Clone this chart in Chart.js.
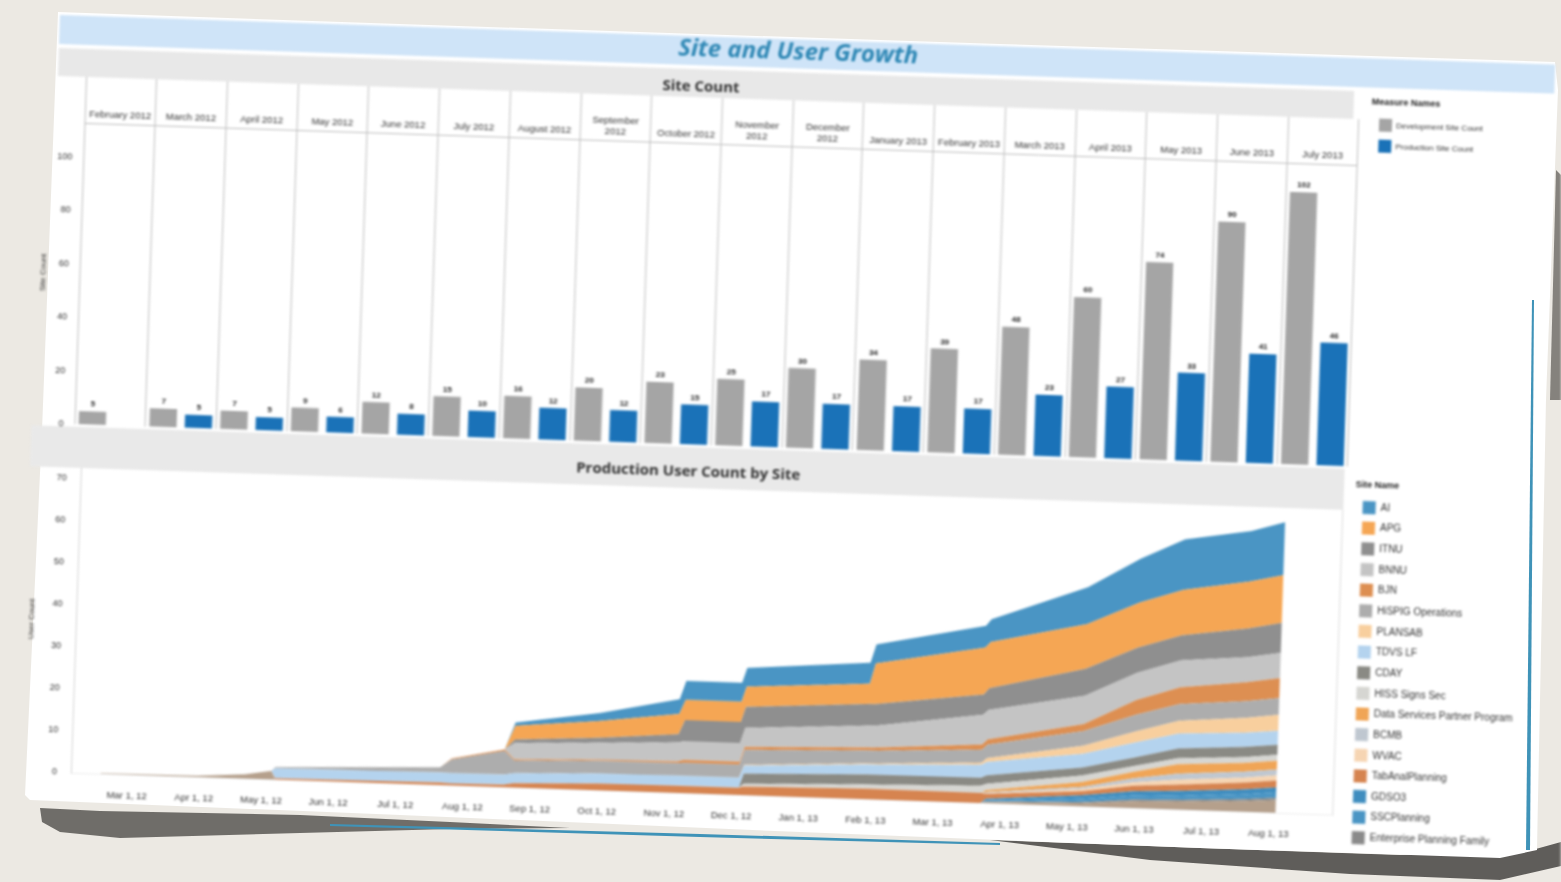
<!DOCTYPE html>
<html>
<head>
<meta charset="utf-8">
<title>Site and User Growth</title>
<script src="https://cdn.jsdelivr.net/npm/chart.js@4"></script>
<style>
html, body { margin: 0; width: 1561px; height: 882px; overflow: hidden; background: #ece9e3; }
.layer { position: absolute; left: 0; top: 0; width: 1561px; height: 882px; }
#shadow { background: #6f6d69; filter: blur(1.5px);
  clip-path: polygon(40px 808px, 100px 811px, 300px 815px, 450px 822px, 570px 828px, 450px 829px, 300px 833px, 120px 838px, 60px 832px, 42px 822px); }
#shadow2 { background: #5f5d5a; filter: blur(1.5px);
  clip-path: polygon(990px 840px, 1200px 848px, 1400px 855px, 1525px 852px, 1561px 842px, 1561px 866px, 1500px 880px, 1350px 874px, 1150px 860px); }
#shadow3 { background: #85827d; filter: blur(1px);
  clip-path: polygon(1556px 170px, 1561px 175px, 1561px 400px, 1550px 400px); }
#paper { background: #fff; filter: blur(.6px);
  clip-path: polygon(58px 12px, 400px 24px, 1000px 44px, 1555px 62px, 1558px 90px, 1546px 400px, 1537px 850px, 1500px 858px, 1200px 848px, 800px 832px, 400px 815px, 30px 800px, 25px 795px, 42px 430px); }
#edge1 { background: #3f93b8; filter: blur(.6px);
  clip-path: polygon(330px 824px, 700px 834px, 1000px 843px, 1000px 845px, 700px 837px, 330px 826px); }
#edge2 { background: #3f93b8; filter: blur(.6px);
  clip-path: polygon(1532px 300px, 1534px 300px, 1530px 850px, 1526px 850px); }
#sheet { position: absolute; left: 60px; top: 15px; width: 1500px; height: 800px;
  transform-origin: 0 0; transform: rotate(1.9deg); filter: blur(.9px); }
#sheet > div, #sheet > canvas { position: absolute; }
#titleband { left: 0; top: 0; width: 1496px; height: 29px; background: #cfe4f8; }
#title { left: 0; top: -6px; width: 1478px; text-align: center; font: italic bold 24px "Open Sans", sans-serif; color: #2f88b5; }
#band1 { left: 0; top: 33px; width: 1296px; height: 28px; background: #e8e8e8; }
#band1txt { left: 0; top: 39px; width: 1286px; text-align: center; font: bold 15px "Open Sans", sans-serif; color: #333; }
#band2 { left: -15px; top: 411px; width: 1314px; height: 41px; background: #e9e9e9; }
#band2txt { left: -15px; top: 424px; width: 1316px; text-align: center; font: bold 15px "Open Sans", sans-serif; color: #333; }
#barChart { left: -20px; top: 37px; }
#areaChart { left: -20px; top: 420px; }
</style>
</head>
<body>
<div class="layer" id="shadow"></div>
<div class="layer" id="shadow2"></div>
<div class="layer" id="shadow3"></div>
<div class="layer" id="paper"></div>
<div class="layer" id="edge1"></div>
<div class="layer" id="edge2"></div>
<div id="sheet">
  <div id="titleband"></div>
  <div id="title">Site and User Growth</div>
  <div id="band1"></div>
  <div id="band1txt">Site Count</div>
  <div id="band2"></div>
  <div id="band2txt">Production User Count by Site</div>
  <canvas id="barChart" width="1510" height="380"></canvas>
  <canvas id="areaChart" width="1510" height="376"></canvas>
</div>
<script>
const months = ["February 2012", "March 2012", "April 2012", "May 2012", "June 2012", "July 2012", "August 2012",
  ["September", "2012"], "October 2012", ["November", "2012"], ["December", "2012"], "January 2013", "February 2013",
  "March 2013", "April 2013", "May 2013", "June 2013", "July 2013"];
const devCount = [5, 7, 7, 9, 12, 15, 16, 20, 23, 25, 30, 34, 39, 48, 60, 74, 90, 102];
const prodCount = [null, 5, 5, 6, 8, 10, 12, 12, 15, 17, 17, 17, 17, 23, 27, 33, 41, 46];

// months since Mar 1, 12 for every reading of the area chart
const xs = [-0.4, 1.05, 1.75, 2.14, 2.2, 4.65, 4.82, 5.6, 5.75, 7, 8.18, 8.27, 9.1, 9.17, 11, 11.08, 12.7, 12.78, 14.2, 14.97, 15.62, 16.6, 17.1];
const monthTicks = ["Mar 1, 12", "Apr 1, 12", "May 1, 12", "Jun 1, 12", "Jul 1, 12", "Aug 1, 12", "Sep 1, 12", "Oct 1, 12", "Nov 1, 12",
  "Dec 1, 12", "Jan 1, 13", "Feb 1, 13", "Mar 1, 13", "Apr 1, 13", "May 1, 13", "Jun 1, 13", "Jul 1, 13", "Aug 1, 13"];

const ai      = [0, 0, 0, 0, 0, 0, 0, 0, 0.8, 1.9, 3.5, 4.5, 4.5, 4.5, 5, 4.5, 5.2, 5.4, 8.8, 10.5, 12, 12, 12.6];
const apg     = [0, 0, 0, 0, 0, 0, 0, 0, 3.3, 4, 4.8, 4.8, 4.8, 4.8, 4.8, 9.7, 11.2, 11, 10.7, 10.7, 10.8, 11.2, 11.4];
const itnu    = [0, 0, 0, 0, 0, 0, 0, 0, 0.8, 1.2, 2, 5, 5, 5, 5.2, 5.2, 4.8, 5.2, 6.4, 6, 6, 6.8, 7.1];
const bnnu    = [0, 0, 0, 0, 0, 0, 0, 0, 3.9, 4, 4.5, 4.5, 4.5, 4.5, 5.2, 5.2, 7.1, 7, 6.7, 6.5, 6.4, 6, 6];
const bjn     = [0, 0, 0, 0, 0, 0, 0.2, 0.4, 0.3, 0.3, 0.4, 0.7, 0.7, 0.7, 0.7, 0.7, 1.2, 1.3, 1.7, 3.5, 4, 4.5, 4.8];
const hispig  = [0, 0, 0, 0, 0.3, 1.2, 3.3, 5.6, 3, 3, 3, 3.1, 3.1, 3.6, 3.1, 3.1, 3.1, 3.2, 3.5, 4, 4, 4, 4];
const plansab = [0, 0, 0, 0, 0, 0, 0, 0, 0, 0, 0, 0, 0, 0.2, 0.2, 0.2, 0.5, 0.9, 1.9, 2.6, 3, 3.5, 3.8];
const tdvs    = [0, 0, 0, 0, 2.4, 2.4, 2.4, 2.4, 2.4, 2.4, 2.4, 2.4, 2.4, 1.9, 2.4, 2.4, 3.1, 3.2, 3.3, 3.6, 3.6, 3.4, 3.3];
const cday    = [0, 0, 0, 0, 0, 0, 0, 0, 0, 0, 0, 0, 0, 2.4, 2.4, 2.4, 1.9, 2, 1.9, 2, 2.3, 2.4, 2.4];
const hiss    = [0, 0, 0, 0, 0, 0, 0, 0, 0, 0, 0, 0, 0, 0.7, 1, 1, 1.7, 1.5, 1.5, 1.4, 1.4, 1.4, 1.4];
const dsp     = [0, 0, 0, 0, 0, 0, 0, 0, 0, 0, 0, 0, 0, 0, 0, 0, 0, 0.5, 1.2, 1.5, 2.3, 2.1, 2.1];
const bcmb    = [0, 0, 0, 0, 0, 0, 0, 0, 0, 0, 0, 0, 0, 0, 0, 0, 0, 0.2, 0.5, 1, 1.4, 1.4, 1.4];
const wvac    = [0, 0, 0, 0, 0, 0, 0, 0, 0, 0, 0, 0, 0, 0, 0, 0, 0, 0.2, 0.5, 0.8, 1.2, 1.2, 1.2];
const tabPlan = [0, 0, 0, 0, 0.3, 0.6, 0.5, 0.6, 1, 1.6, 1.7, 1.7, 1.7, 2, 2.5, 2.5, 2.4, 1.2, 1, 1.3, 1.5, 1.6, 1.7];
const gdso3   = [0, 0, 0, 0, 0, 0, 0, 0, 0, 0, 0, 0, 0, 0, 0, 0, 0, 0.3, 0.8, 1, 1.1, 1.2, 1.2];
const sscPlan = [0, 0, 0, 0, 0, 0, 0, 0, 0, 0, 0, 0, 0, 0, 0, 0, 0, 0.3, 0.8, 1, 1, 1.1, 1.2];
const entPlan = [0, 0, 0, 0, 0, 0, 0, 0, 0, 0, 0, 0, 0, 0, 0, 0, 0, 0.1, 0.3, 0.4, 0.4, 0.5, 0.6];
// bottom band, its legend entry is cut off in the picture
const otherSites = [0.1, 0.3, 1, 2, 0, 0, 0, 0, 0, 0, 0, 0, 0, 0, 0, 0, 0, 0.3, 0.7, 1.6, 1.9, 2.5, 3];

const siteNames = ["AI", "APG", "ITNU", "BNNU", "BJN", "HiSPIG Operations", "PLANSAB", "TDVS LF", "CDAY", "HISS Signs Sec",
  "Data Services Partner Program", "BCMB", "WVAC", "TabAnalPlanning", "GDSO3", "SSCPlanning", "Enterprise Planning Family", "Other"];
const siteValues = [ai, apg, itnu, bnnu, bjn, hispig, plansab, tdvs, cday, hiss, dsp, bcmb, wvac, tabPlan, gdso3, sscPlan, entPlan, otherSites];
const siteColors = ["#4a95c4", "#f5a654", "#8f8f8f", "#c4c4c4", "#dd8f52", "#adadad", "#f8cf9e", "#b4d3ee", "#8a8a84", "#d6d6d2",
  "#f0a556", "#bfc7d0", "#f6d5b3", "#d68450", "#3f8dbf", "#4a95c4", "#8a8a8a", "#b5a08c"];

const sans = "'Liberation Sans', sans-serif";
Chart.defaults.font.family = sans;
Chart.defaults.animation = false;

// value above each bar
const barLabels = {
  id: "barLabels",
  afterDatasetsDraw(chart) {
    const c = chart.ctx;
    c.save();
    c.font = "bold 8px " + sans;
    c.fillStyle = "#222";
    c.textAlign = "center";
    c.textBaseline = "bottom";
    chart.data.datasets.forEach((ds, i) => {
      chart.getDatasetMeta(i).data.forEach((bar, j) => {
        if (ds.data[j] != null) c.fillText(ds.data[j], bar.x, bar.y - 3);
      });
    });
    c.restore();
  }
};

let barChart = new Chart(document.getElementById("barChart"), {
  type: "bar",
  data: {
    labels: months,
    datasets: [
      { label: "Development Site Count", data: devCount, backgroundColor: "#a5a5a5", categoryPercentage: 1, barPercentage: 0.77 },
      { label: "Production Site Count", data: prodCount, backgroundColor: "#1a72b8", categoryPercentage: 1, barPercentage: 0.77 }
    ]
  },
  options: {
    responsive: false,
    maintainAspectRatio: false,
    plugins: {
      tooltip: { enabled: false },
      legend: {
        position: "right",
        align: "start",
        title: { display: true, position: "start", text: "Measure Names", color: "#222", font: { size: 9, weight: "bold" }, padding: 2 },
        labels: { boxWidth: 13, boxHeight: 13, padding: 8, color: "#333", font: { size: 8 } }
      }
    },
    scales: {
      x: {
        position: "top",
        afterFit(s) { s.height = 70; },
        grid: { color: "#bdbdbd", tickLength: 46 },
        border: { color: "#bdbdbd" },
        ticks: { autoSkip: false, maxRotation: 0, color: "#333", font: { size: 9.5 }, padding: -43 }
      },
      y: {
        min: 0, max: 112.8,
        afterFit(s) { s.width = 48; },
        grid: { display: false },
        border: { display: false },
        title: { display: true, text: "Site Count", color: "#333", font: { size: 8 }, padding: { top: 7, bottom: 0 } },
        ticks: { stepSize: 20, includeBounds: false, color: "#333", font: { size: 9 }, padding: 3 }
      },
      gap: {
        position: "right",
        afterFit(s) { s.width = 12; },
        grid: { display: false },
        border: { display: false },
        ticks: { display: false }
      }
    }
  },
  plugins: [barLabels]
});

let areaChart = new Chart(document.getElementById("areaChart"), {
  type: "line",
  data: {
    // first dataset is the bottom of the stack, so walk the list backwards
    datasets: siteNames.map((name, i) => ({
      label: name,
      data: xs.map((x, k) => ({ x: x, y: siteValues[i][k] })),
      backgroundColor: siteColors[i],
      borderWidth: 0,
      pointRadius: 0,
      tension: 0,
      fill: "stack"
    })).reverse()
  },
  options: {
    responsive: false,
    maintainAspectRatio: false,
    plugins: {
      tooltip: { enabled: false },
      legend: {
        position: "right",
        align: "start",
        reverse: true,
        title: { display: true, position: "start", text: "Site Name", color: "#222", font: { size: 9, weight: "bold" }, padding: 2 },
        labels: {
          boxWidth: 13, boxHeight: 13, padding: 7.65, color: "#333", font: { size: 10 },
          filter: (item) => item.text !== "Other"
        }
      }
    },
    scales: {
      x: {
        type: "linear",
        min: -0.84, max: 17.95,
        afterFit(s) { s.height = 39; },
        grid: { display: false },
        border: { color: "#eeeeee" },
        ticks: {
          stepSize: 1, includeBounds: false, autoSkip: false, maxRotation: 0, color: "#333", font: { size: 9.5 }, padding: 8,
          callback: (v) => monthTicks[v]
        }
      },
      top: {
        type: "linear",
        position: "top",
        afterFit(s) { s.height = 32; },
        grid: { display: false },
        border: { display: false },
        ticks: { display: false }
      },
      y: {
        stacked: true,
        min: 0, max: 72.6,
        afterFit(s) { s.width = 56; },
        grid: { display: false },
        border: { color: "#d6d6d6" },
        title: { display: true, text: "User Count", color: "#333", font: { size: 8 }, padding: { top: 7, bottom: 0 } },
        ticks: { stepSize: 10, includeBounds: false, color: "#333", font: { size: 9 }, padding: 6 }
      },
      gap: {
        position: "right",
        afterFit(s) { s.width = 12; },
        grid: { display: false },
        border: { color: "#dddddd" },
        ticks: { display: false }
      }
    }
  }
});

// legend width depends on the text, so trim the canvas until the plot ends where it should
function fitRight(chart, wanted) {
  const extra = chart.chartArea.right - wanted;
  chart.resize(chart.width - extra, chart.height);
}
fitRight(barChart, 1321);
fitRight(areaChart, 1318.6);
</script>
</body>
</html>
